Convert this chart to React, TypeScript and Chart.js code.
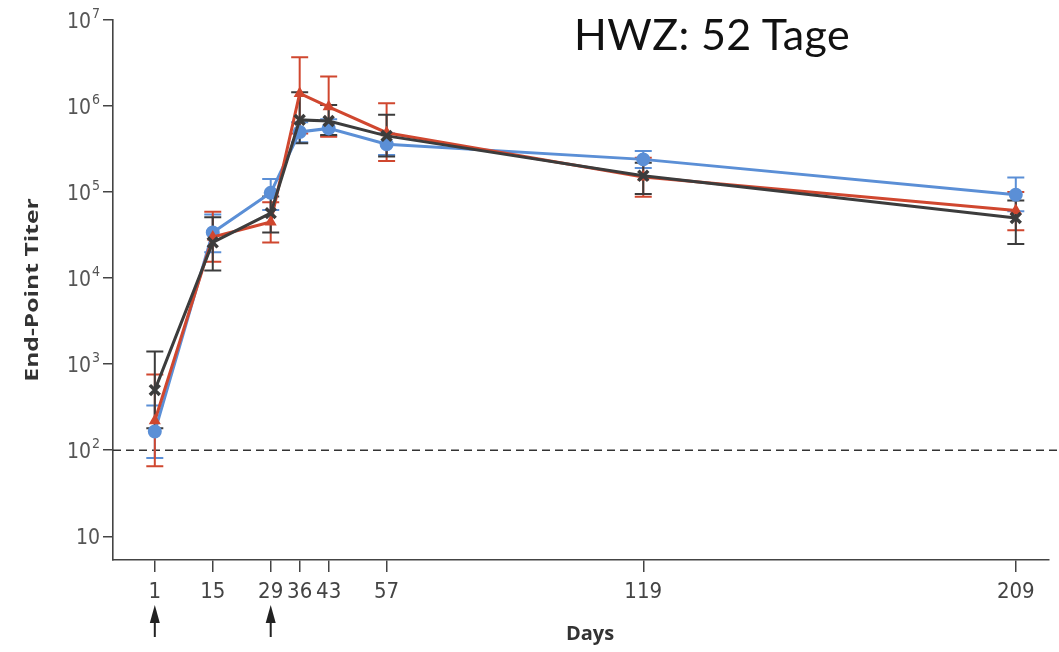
import React, { useEffect, useRef } from "react";
import { Chart, registerables } from "chart.js";
Chart.register(...registerables);

const days = [1, 15, 29, 36, 43, 57, 119, 209];
const xTickDays = [1, 15, 29, 36, 43, 57, 119, 209];
const yTickValues = [10, 100, 1e3, 1e4, 1e5, 1e6, 1e7];
const yTickBase = ["10", "10", "10", "10", "10", "10", "10"];
const yTickExp = ["", "2", "3", "4", "5", "6", "7"];
const arrowDays = [1, 29];
const lodValue = 100;
const yTitle = "End-Point Titer";
const xTitle = "Days";
const noteText = "HWZ: 52 Tage";

const blueMean = [165, 34000, 98000, 500000, 550000, 360000, 240000, 93000];
const blueLo = [81, 20000, 62000, 380000, 450000, 270000, 190000, 60000];
const blueHi = [330, 55000, 142000, 650000, 700000, 480000, 300000, 148000];

const redMean = [220, 30000, 45000, 1400000, 980000, 490000, 150000, 61000];
const redLo = [65, 15500, 26000, 480000, 440000, 230000, 88000, 36000];
const redHi = [760, 59000, 76000, 3700000, 2200000, 1080000, 250000, 100000];

const blackMean = [500, 26000, 57000, 690000, 670000, 450000, 155000, 50000];
const blackLo = [180, 12300, 34000, 370000, 460000, 260000, 95000, 25000];
const blackHi = [1400, 51000, 89000, 1450000, 1030000, 790000, 220000, 80000];

const BLUE = "#5b8fd6";
const RED = "#d0472f";
const BLACK = "#3c3c3c";
const NARROW = "'Liberation Sans Narrow', 'DejaVu Sans Condensed', sans-serif";

const errorBarsPlugin = {
  id: "errorBars",
  beforeDatasetsDraw(chart: any) {
    const { ctx, scales } = chart;
    const xs = scales.x;
    const ys = scales.y;
    ctx.save();
    ctx.strokeStyle = "#333";
    ctx.lineWidth = 1.6;
    ctx.setLineDash([8, 5]);
    const yl = ys.getPixelForValue(lodValue);
    ctx.beginPath();
    ctx.moveTo(chart.chartArea.left, yl);
    ctx.lineTo(chart.width, yl);
    ctx.stroke();
    ctx.restore();

    const sets = chart.data.datasets;
    for (let i = sets.length - 1; i >= 0; i--) {
      const ds: any = sets[i];
      ctx.save();
      ctx.strokeStyle = ds.borderColor;
      ctx.lineWidth = 2;
      days.forEach((d, j) => {
        const x = xs.getPixelForValue(d);
        const y1 = ys.getPixelForValue(ds.lo[j]);
        const y2 = ys.getPixelForValue(ds.hi[j]);
        ctx.beginPath();
        ctx.moveTo(x, y1);
        ctx.lineTo(x, y2);
        ctx.moveTo(x - 8.5, y1);
        ctx.lineTo(x + 8.5, y1);
        ctx.moveTo(x - 8.5, y2);
        ctx.lineTo(x + 8.5, y2);
        ctx.stroke();
      });
      ctx.restore();
    }
  },
  afterDraw(chart: any) {
    const { ctx, scales } = chart;
    const xs = scales.x;
    const ys = scales.y;
    ctx.save();
    ctx.strokeStyle = "#222";
    ctx.fillStyle = "#222";
    ctx.lineWidth = 2;
    arrowDays.forEach((d) => {
      const x = xs.getPixelForValue(d);
      ctx.beginPath();
      ctx.moveTo(x, 637);
      ctx.lineTo(x, 618);
      ctx.stroke();
      ctx.beginPath();
      ctx.moveTo(x, 605);
      ctx.lineTo(x - 5, 623);
      ctx.lineTo(x + 5, 623);
      ctx.closePath();
      ctx.fill();
    });
    ctx.restore();

    // y tick labels with superscript exponents
    ctx.save();
    ctx.fillStyle = "#555";
    ctx.textBaseline = "alphabetic";
    ctx.textAlign = "left";
    const right = ys.right - 13;
    yTickValues.forEach((v, i) => {
      const y = ys.getPixelForValue(v);
      ctx.font = `14px ${NARROW}`;
      const ew = yTickExp[i] ? ctx.measureText(yTickExp[i]).width : 0;
      ctx.font = `21px ${NARROW}`;
      const bw = ctx.measureText(yTickBase[i]).width;
      const bx = right - ew - (ew ? 1 : 0) - bw;
      ctx.fillText(yTickBase[i], bx, y + 7.5);
      if (yTickExp[i]) {
        ctx.font = `14px ${NARROW}`;
        ctx.fillText(yTickExp[i], bx + bw + 1, y - 2.5);
      }
    });
    ctx.restore();

    // axis titles
    ctx.save();
    ctx.fillStyle = "#333";
    ctx.font = "bold 20px 'Open Sans', sans-serif";
    ctx.textAlign = "center";
    ctx.textBaseline = "middle";
    ctx.fillText(xTitle, xs.getPixelForValue(xs.min) + 477, 634);
    ctx.restore();

    ctx.save();
    ctx.fillStyle = "#333";
    ctx.font = "bold 17px 'Open Sans', sans-serif";
    ctx.textAlign = "center";
    ctx.textBaseline = "middle";
    const cy = (chart.chartArea.top + chart.chartArea.bottom) / 2;
    ctx.translate(33, cy);
    ctx.rotate(-Math.PI / 2);
    ctx.scale(1.45, 1);
    ctx.fillText(yTitle, 0, 0);
    ctx.restore();
  },
};

export default function App() {
  const ref = useRef<HTMLCanvasElement>(null);
  useEffect(() => {
    if (!ref.current) return;
    const mk = (label: string, data: number[], lo: number[], hi: number[], color: string, style: string, r: number, bw: number) => ({
      label,
      data: days.map((d, i) => ({ x: d, y: data[i] })),
      lo,
      hi,
      borderColor: color,
      backgroundColor: color,
      pointBackgroundColor: color,
      pointBorderColor: color,
      pointStyle: style,
      pointRadius: r,
      pointBorderWidth: bw,
      borderWidth: 3,
      tension: 0,
    });
    const chart = new Chart(ref.current, {
      type: "line",
      data: {
        datasets: [
          mk("black", blackMean, blackLo, blackHi, BLACK, "crossRot", 7, 3.5),
          mk("red", redMean, redLo, redHi, RED, "triangle", 5, 2),
          mk("blue", blueMean, blueLo, blueHi, BLUE, "circle", 6, 2),
        ] as any,
      },
      options: {
        animation: false,
        responsive: false,
        layout: { padding: { left: 13, top: 20, right: 6, bottom: 2 } },
        plugins: { legend: { display: false }, tooltip: { enabled: false } },
        scales: {
          x: {
            type: "linear",
            min: -9.1,
            max: 216.9,
            afterFit: (s: any) => {
              s.height = 90;
            },
            afterBuildTicks: (s: any) => {
              s.ticks = xTickDays.map((v) => ({ value: v }));
            },
            ticks: {
              autoSkip: false,
              maxRotation: 0,
              padding: 7,
              color: "#444",
              font: { family: NARROW, size: 22 },
              callback: (v: any) => String(v),
            },
            grid: { drawOnChartArea: false, drawTicks: true, tickLength: 12, color: "#444", lineWidth: 1.5 },
            border: { color: "#444", width: 1.6 },
          },
          y: {
            type: "logarithmic",
            min: 5.3,
            max: 1e7,
            afterFit: (s: any) => {
              s.width = 100;
            },
            afterBuildTicks: (s: any) => {
              s.ticks = yTickValues.map((v) => ({ value: v }));
            },
            ticks: { display: false },
            grid: { drawOnChartArea: false, drawTicks: true, tickLength: 10, color: "#444", lineWidth: 1.5 },
            border: { color: "#444", width: 1.6 },
          },
        },
      },
      plugins: [errorBarsPlugin],
    });
    return () => chart.destroy();
  }, []);
  return (
    <div style={{ position: "absolute", left: 0, top: 0, width: 1059, height: 652, background: "#fff" }}>
      <canvas ref={ref} width={1059} height={652} style={{ display: "block" }} />
      <div
        style={{
          position: "absolute",
          left: 574,
          top: 8,
          fontFamily: "Lato, sans-serif",
          fontSize: 43,
          letterSpacing: "0.4px",
          color: "#111",
          whiteSpace: "nowrap",
          lineHeight: "52px",
        }}
      >
        {noteText}
      </div>
    </div>
  );
}
